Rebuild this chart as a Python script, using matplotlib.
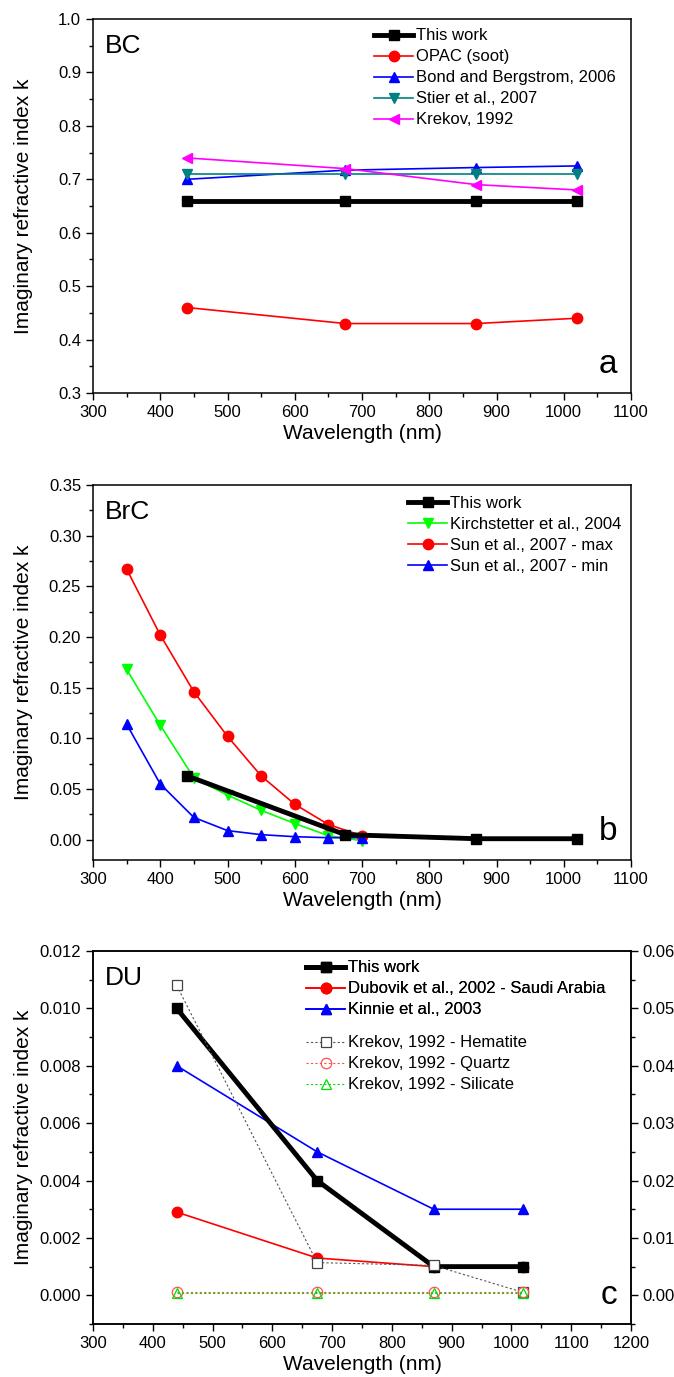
import matplotlib
matplotlib.use("Agg")
import matplotlib.pyplot as plt
from matplotlib.ticker import MultipleLocator, FormatStrFormatter

plt.rcParams['font.family'] = ['Liberation Sans', 'DejaVu Sans']

# ---------------- Data ----------------
wl_aer = [440, 675, 870, 1020]

# Panel a: BC
bc_this = [0.66, 0.66, 0.66, 0.66]
bc_opac = [0.46, 0.43, 0.43, 0.44]
bc_bond = [0.700, 0.717, 0.722, 0.725]
bc_stier = [0.71, 0.71, 0.71, 0.71]
bc_krekov = [0.74, 0.72, 0.69, 0.68]

# Panel b: BrC
brc_this = [0.063, 0.005, 0.001, 0.001]
wl_lab = [350, 400, 450, 500, 550, 600, 650, 700]
brc_kirch = [0.168, 0.113, 0.061, 0.044, 0.029, 0.016, 0.004, -0.001]
brc_sun_max = [0.267, 0.202, 0.146, 0.102, 0.063, 0.035, 0.015, 0.004]
brc_sun_min = [0.114, 0.055, 0.022, 0.009, 0.005, 0.003, 0.002, 0.002]

# Panel c: DU
du_this = [0.010, 0.004, 0.001, 0.001]
du_dubovik = [0.0029, 0.0013, 0.0010, 0.0010]
du_kinnie = [0.008, 0.005, 0.003, 0.003]
# right axis (Krekov)
du_hematite = [0.054, 0.0057, 0.0052, 0.0005]
du_quartz = [0.0006, 0.0006, 0.0006, 0.0006]
du_silicate = [0.0004, 0.0004, 0.0004, 0.0004]

W, H = 674, 1377
fig = plt.figure(figsize=(W / 100, H / 100), dpi=100)


def make_axes(top_px, bot_px):
    left, right = 93, 631
    return fig.add_axes([left / W, 1 - bot_px / H, (right - left) / W, (bot_px - top_px) / H])


TICK_FS = 12
LAB_FS = 15
LEG_FS = 12
LEG_KW = dict(frameon=False, fontsize=LEG_FS, handlelength=2.3, handletextpad=0.2,
              labelspacing=0.36, borderaxespad=0, borderpad=0.2)


def style(ax, xmax, xminor=50):
    ax.set_xlim(300, xmax)
    ax.xaxis.set_major_locator(MultipleLocator(100))
    ax.xaxis.set_minor_locator(MultipleLocator(xminor))
    ax.tick_params(which='major', direction='out', length=5, width=1.0, labelsize=TICK_FS,
                   top=False, right=False)
    ax.tick_params(which='minor', direction='out', length=3, width=1.0, top=False, right=False)
    for s in ax.spines.values():
        s.set_linewidth(1.1)
    ax.set_xlabel('Wavelength (nm)', fontsize=LAB_FS, labelpad=3)
    ax.set_ylabel('Imaginary refractive index k', fontsize=LAB_FS)
    ax.yaxis.set_label_coords(-0.112, 0.5)


thick = dict(color='black', lw=3.5, marker='s', ms=7.5, zorder=5)
thin = dict(lw=1.2, ms=7.5)

# ---------------- Panel a ----------------
ax1 = make_axes(19, 393)
ax1.plot(wl_aer, bc_this, label='This work', **thick)
ax1.plot(wl_aer, bc_opac, color='#ff0000', marker='o', label='OPAC (soot)', **thin)
ax1.plot(wl_aer, bc_bond, color='#0000ff', marker='^', label='Bond and Bergstrom, 2006', **thin)
ax1.plot(wl_aer, bc_stier, color='#008080', marker='v', label='Stier et al., 2007', **thin)
ax1.plot(wl_aer, bc_krekov, color='#ff00ff', marker='<', label='Krekov, 1992', **thin)
style(ax1, 1100)
ax1.set_ylim(0.3, 1.0)
ax1.yaxis.set_major_locator(MultipleLocator(0.1))
ax1.yaxis.set_minor_locator(MultipleLocator(0.05))
ax1.yaxis.set_major_formatter(FormatStrFormatter('%.1f'))
ax1.legend(loc='upper left', bbox_to_anchor=((371 - 93) / 538, 1.0 - 6 / 374), **LEG_KW)
ax1.text(0.022, 0.96, 'BC', transform=ax1.transAxes, fontsize=19, va='top', ha='left')
ax1.text(0.975, 0.035, 'a', transform=ax1.transAxes, fontsize=24, va='bottom', ha='right')

# ---------------- Panel b ----------------
ax2 = make_axes(485, 860)
ax2.plot(wl_aer, brc_this, label='This work', **thick)
ax2.plot(wl_lab, brc_kirch, color='#00ff00', marker='v', label='Kirchstetter et al., 2004', **thin)
ax2.plot(wl_lab, brc_sun_max, color='#ff0000', marker='o', label='Sun et al., 2007 - max', **thin)
ax2.plot(wl_lab, brc_sun_min, color='#0000ff', marker='^', label='Sun et al., 2007 - min', **thin)
style(ax2, 1100)
ax2.set_ylim(-0.02, 0.35)
ax2.yaxis.set_major_locator(MultipleLocator(0.05))
ax2.yaxis.set_minor_locator(MultipleLocator(0.025))
ax2.yaxis.set_major_formatter(FormatStrFormatter('%.2f'))
ax2.legend(loc='upper left', bbox_to_anchor=((405 - 93) / 538, 1.0 - 8 / 375), **LEG_KW)
ax2.text(0.022, 0.96, 'BrC', transform=ax2.transAxes, fontsize=19, va='top', ha='left')
ax2.text(0.975, 0.035, 'b', transform=ax2.transAxes, fontsize=24, va='bottom', ha='right')

# ---------------- Panel c ----------------
ax3 = make_axes(951, 1324)
ax3r = ax3.twinx()
l1, = ax3.plot(wl_aer, du_this, label='This work', **thick)
l2, = ax3.plot(wl_aer, du_dubovik, color='#ff0000', marker='o', label='Dubovik et al., 2002 - Saudi Arabia', **thin)
l3, = ax3.plot(wl_aer, du_kinnie, color='#0000ff', marker='^', label='Kinnie et al., 2003', **thin)
r1, = ax3r.plot(wl_aer, du_hematite, color='#555555', ls=(0, (2, 2)), lw=0.8, marker='s', ms=7.5,
                mfc='white', mec='#444444', mew=0.9, label='Krekov, 1992 - Hematite')
r2, = ax3r.plot(wl_aer, du_quartz, color='#ff5050', ls=(0, (2, 2)), lw=0.8, marker='o', ms=7.5,
                mfc='none', mec='#ff5050', mew=0.9, label='Krekov, 1992 - Quartz')
r3, = ax3r.plot(wl_aer, du_silicate, color='#00dd00', ls=(0, (2, 2)), lw=0.8, marker='^', ms=7.5,
                mfc='none', mec='#00dd00', mew=0.9, label='Krekov, 1992 - Silicate')
style(ax3, 1200)
ax3.set_ylim(-0.001, 0.012)
ax3.yaxis.set_major_locator(MultipleLocator(0.002))
ax3.yaxis.set_minor_locator(MultipleLocator(0.001))
ax3.yaxis.set_major_formatter(FormatStrFormatter('%.3f'))
ax3r.set_ylim(-0.005, 0.06)
ax3r.yaxis.set_major_locator(MultipleLocator(0.01))
ax3r.yaxis.set_minor_locator(MultipleLocator(0.005))
ax3r.yaxis.set_major_formatter(FormatStrFormatter('%.2f'))
ax3r.tick_params(which='major', direction='out', length=5, width=1.0, labelsize=TICK_FS)
ax3r.tick_params(which='minor', direction='out', length=3, width=1.0)
for s in ax3r.spines.values():
    s.set_linewidth(1.1)
leg1 = ax3.legend(handles=[l1, l2, l3], loc='upper left',
                  bbox_to_anchor=((303 - 93) / 538, 1.0 - 6 / 373), **LEG_KW)
ax3.add_artist(leg1)
ax3r.legend(handles=[r1, r2, r3], loc='upper left',
            bbox_to_anchor=((303 - 93) / 538, 1.0 - 81 / 373), **LEG_KW)
ax3.text(0.022, 0.96, 'DU', transform=ax3.transAxes, fontsize=19, va='top', ha='left')
ax3.text(0.975, 0.035, 'c', transform=ax3.transAxes, fontsize=24, va='bottom', ha='right')

fig.savefig('out.png', dpi=100)
